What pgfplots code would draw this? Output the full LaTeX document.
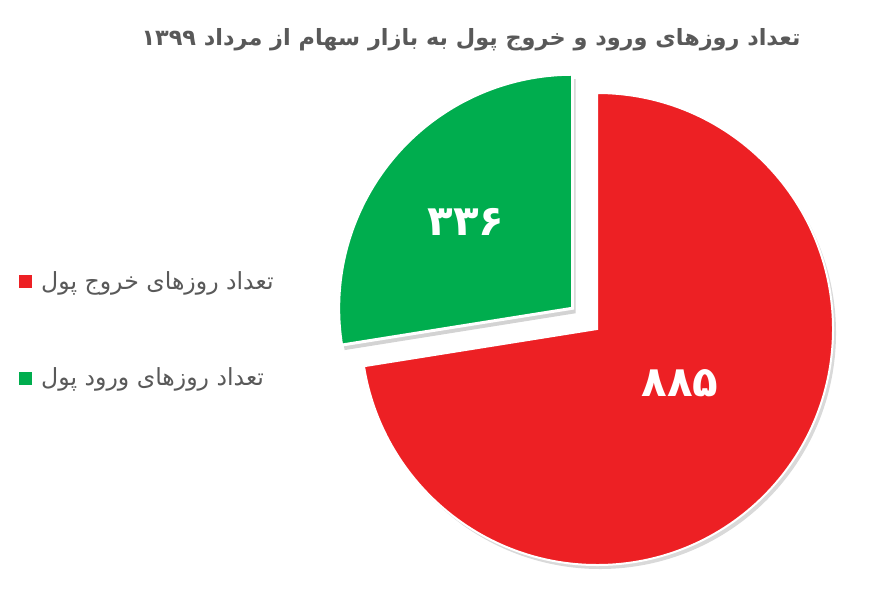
\documentclass[border=0pt]{standalone}
\usepackage{pgfplots}
\pgfplotsset{compat=1.18}
\usepackage{pgfplotstable}
\usepackage{fontspec}
\usetikzlibrary{shadows}
\TeXXeTstate=1
\setmainfont{DejaVu Sans}
\newfontfamily\arabicfont[Script=Arabic]{DejaVu Sans}
\definecolor{pred}{HTML}{ED2024}
\definecolor{pgreen}{HTML}{00AD4E}
\definecolor{tgray}{HTML}{595959}
\pgfplotstableread{
label value
out 885
in 336
}\piedata
\pgfplotstablegetelem{0}{value}\of\piedata \let\vout\pgfplotsretval
\pgfplotstablegetelem{1}{value}\of\piedata \let\vin\pgfplotsretval
\pgfmathsetmacro\aout{360*(\vout/(\vout+\vin))}
\pgfmathsetmacro\ain{360*(\vin/(\vout+\vin))}
\pgfmathsetmacro\amid{90+\ain/2}
\begin{document}
\begin{tikzpicture}
\begin{axis}[
  scale only axis, width=435.5pt, height=297pt,
  xmin=0, xmax=871, ymin=0, ymax=594, y dir=reverse,
  hide axis, clip=false,
  legend style={at={(axis cs:13,330)}, anchor=west, draw=none, fill=none,
    font=\arabicfont\fontsize{11.8}{14}\selectfont, text=tgray,
    row sep=34pt, cells={anchor=west}},
  legend image code/.code={\fill[#1] (0pt,-3pt) rectangle (6pt,3pt); \path (8.5pt,0pt);},
]
\addlegendimage{pred}
\addlegendentry{\beginR تعداد روزهای خروج پول\endR}
\addlegendimage{pgreen}
\addlegendentry{\beginR تعداد روزهای ورود پول\endR}
% red slice
\fill[pred, draw=white, line width=1pt, drop shadow={shadow xshift=1.5pt, shadow yshift=-2pt, opacity=0.3}]
  (axis cs:597,329) -- ++(90:118pt) arc[start angle=90, delta angle=-\aout, radius=118pt] -- cycle;
% green slice (exploded)
\fill[pgreen, draw=white, line width=1.5pt, drop shadow={shadow xshift=1.5pt, shadow yshift=-2.5pt, opacity=0.35},
  shift={(\amid:16pt)}]
  (axis cs:597,329) -- ++(90:117pt) arc[start angle=90, delta angle=\ain, radius=117pt] -- cycle;
\node[text=white, font=\arabicfont\bfseries\fontsize{21}{24}\selectfont] at (axis cs:466,222) {۳۳۶};
\node[text=white, font=\arabicfont\bfseries\fontsize{21}{24}\selectfont] at (axis cs:680,383) {۸۸۵};
\node[text=tgray, font=\arabicfont\bfseries\fontsize{11.2}{14}\selectfont] at (axis cs:471,40)
  {\beginR تعداد روزهای ورود و خروج پول به بازار سهام از مرداد \beginL۱۳۹۹\endL\endR};
\end{axis}
\pgfresetboundingbox
\useasboundingbox (0,0) rectangle (435.5pt,297pt);
\end{tikzpicture}
\end{document}
